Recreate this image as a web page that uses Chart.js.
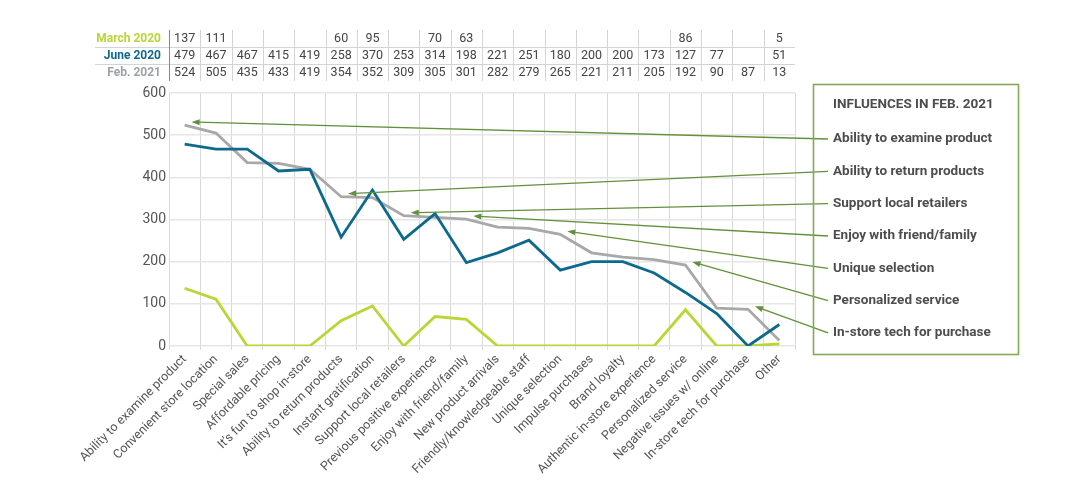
<!DOCTYPE html>
<html>
<head>
<meta charset="utf-8">
<script src="https://cdn.jsdelivr.net/npm/chart.js@4"></script>
<style>
  html, body { margin: 0; padding: 0; background: #fff; }
  #wrap { width: 1087px; height: 498px; }
</style>
</head>
<body>
<div id="wrap"><canvas id="myChart"></canvas></div>
<script>
// categories along the x axis
var categories = [
    "Ability to examine product", "Convenient store location", "Special sales",
    "Affordable pricing", "It\u2019s fun to shop in-store", "Ability to return products",
    "Instant gratification", "Support local retailers", "Previous positive experience",
    "Enjoy with friend/family", "New product arrivals", "Friendly/knowledgeable staff",
    "Unique selection", "Impulse purchases", "Brand loyalty",
    "Authentic in-store experience", "Personalized service", "Negative issues w/ online",
    "In-store tech for purchase", "Other"
];

// series (0 = blank cell in the table)
var march2020 = [137, 111, 0, 0, 0, 60, 95, 0, 70, 63, 0, 0, 0, 0, 0, 0, 86, 0, 0, 5];
var june2020  = [479, 467, 467, 415, 419, 258, 370, 253, 314, 198, 221, 251, 180, 200, 200, 173, 127, 77, 0, 51];
var feb2021   = [524, 505, 435, 433, 419, 354, 352, 309, 305, 301, 282, 279, 265, 221, 211, 205, 192, 90, 87, 13];

var seriesNames = ["March 2020", "June 2020", "Feb. 2021"];
var yMin = 0, yMax = 600, yStep = 100;

// callouts in the box on the right
var boxTitle = "INFLUENCES IN FEB. 2021";
var influences = [
    "Ability to examine product", "Ability to return products", "Support local retailers",
    "Enjoy with friend/family", "Unique selection", "Personalized service",
    "In-store tech for purchase"
];

var colMarch = "#bad535";
var colJune = "#0e6a8c";
var colFeb = "#a8a8a8";
var colArrow = "#62913a";
var font = "Roboto";

var extras = {
    id: "extras",
    afterDraw(chart) {
        var ctx = chart.ctx;
        var xs = chart.scales.x, ys = chart.scales.y;
        var area = chart.chartArea;
        var step = xs.getPixelForValue(1) - xs.getPixelForValue(0);

        // --- data table on top
        var rows = [march2020, june2020, feb2021];
        var rowCols = [colMarch, colJune, "#9ea2a5"];
        var rowY = [39, 56, 73];
        ctx.save();
        ctx.lineWidth = 1;
        ctx.strokeStyle = "#d4d4d4";
        [47.5, 64.5].forEach(function (y) {
            ctx.beginPath(); ctx.moveTo(95, y); ctx.lineTo(area.right, y); ctx.stroke();
        });
        for (var i = 0; i < categories.length - 1; i++) {
            var sx = Math.round(xs.getPixelForValue(i) + step / 2) + 0.5;
            ctx.beginPath(); ctx.moveTo(sx, 30); ctx.lineTo(sx, 81); ctx.stroke();
        }
        ctx.strokeStyle = "#888";
        ctx.beginPath(); ctx.moveTo(169.5, 30); ctx.lineTo(169.5, 81); ctx.stroke();

        ctx.textBaseline = "middle";
        rows.forEach(function (vals, r) {
            ctx.font = "bold 12px " + font;
            ctx.fillStyle = rowCols[r];
            ctx.textAlign = "right";
            ctx.fillText(seriesNames[r], 161, rowY[r]);
            ctx.font = "12.5px " + font;
            ctx.fillStyle = "#444";
            ctx.textAlign = "center";
            vals.forEach(function (v, i) {
                if (v) ctx.fillText(String(v), xs.getPixelForValue(i), rowY[r]);
            });
        });

        // --- arrows from the box to the Feb. 2021 line
        var itemY = influences.map(function (_, k) { return 139 + k * 32.33; });
        ctx.strokeStyle = colArrow;
        ctx.fillStyle = colArrow;
        ctx.lineWidth = 1.3;
        influences.forEach(function (name, k) {
            var idx = categories.indexOf(name);
            var tx = xs.getPixelForValue(idx) + 7;
            var ty = ys.getPixelForValue(feb2021[idx]) - 3;
            var sx = 828, sy = itemY[k];
            var a = Math.atan2(ty - sy, tx - sx);
            ctx.beginPath(); ctx.moveTo(sx, sy); ctx.lineTo(tx - 6 * Math.cos(a), ty - 6 * Math.sin(a)); ctx.stroke();
            ctx.beginPath();
            ctx.moveTo(tx, ty);
            ctx.lineTo(tx - 8 * Math.cos(a) + 3 * Math.sin(a), ty - 8 * Math.sin(a) - 3 * Math.cos(a));
            ctx.lineTo(tx - 8 * Math.cos(a) - 3 * Math.sin(a), ty - 8 * Math.sin(a) + 3 * Math.cos(a));
            ctx.closePath(); ctx.fill();
        });

        // --- the box
        ctx.strokeStyle = "#82a956";
        ctx.lineWidth = 1.6;
        ctx.strokeRect(813.5, 84.5, 205, 270);
        ctx.textAlign = "left";
        ctx.fillStyle = "#4d4d4d";
        ctx.font = "bold 13.5px " + font;
        ctx.fillText(boxTitle, 833, 105);
        influences.forEach(function (name, k) {
            ctx.fillText(name, 833, itemY[k]);
        });
        ctx.restore();
    }
};

var data = {
    labels: categories,
    datasets: [
        { label: seriesNames[1], data: june2020, borderColor: colJune, order: 0 },
        { label: seriesNames[2], data: feb2021, borderColor: colFeb, order: 1 },
        { label: seriesNames[0], data: march2020, borderColor: colMarch, order: 2 }
    ]
};
data.datasets.forEach(function (d) {
    d.borderWidth = 2.8;
    d.pointRadius = 0;
    d.tension = 0;
    d.fill = false;
});

const config = {
    type: "line",
    data: data,
    options: {
        animation: false,
        responsive: true,
        maintainAspectRatio: false,
        layout: { padding: { top: 93, right: 292, left: 0, bottom: 0 } },
        plugins: {
            legend: { display: false },
            tooltip: { enabled: false }
        },
        scales: {
            x: {
                offset: true,
                grid: { offset: true, color: "#d9d9d9", lineWidth: 1, tickLength: 4 },
                border: { display: false },
                ticks: {
                    autoSkip: false, minRotation: 45, maxRotation: 45,
                    color: "#555", padding: 2,
                    font: { family: font, size: 12.5 }
                },
                afterFit: function (s) { s.height = 152; }
            },
            y: {
                min: yMin, max: yMax,
                grid: { color: "#e6e6e6", lineWidth: 1.5, drawTicks: false },
                border: { display: false },
                ticks: {
                    stepSize: yStep, color: "#555", padding: 3,
                    font: { family: font, size: 14 }
                },
                afterFit: function (s) { s.width = 169; }
            }
        }
    },
    plugins: [extras]
};

const myChart = new Chart(document.getElementById("myChart"), config);
</script>
</body>
</html>
